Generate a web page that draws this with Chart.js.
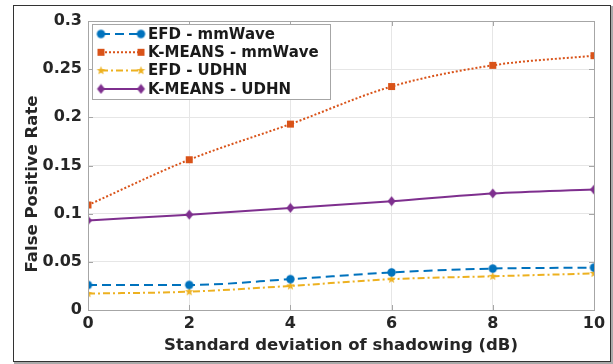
<!DOCTYPE html>
<html lang="en">
<head>
    <meta charset="UTF-8">
    <title>False Positive Rate vs shadowing</title>
    <script src="https://cdn.jsdelivr.net/npm/chart.js@4.4.0/dist/chart.umd.min.js"></script>
    <style>
        body { margin: 0; background: #fff; }
    </style>
</head>
<body>
    <canvas id="grafica" width="613" height="364"></canvas>
    <script>

        // datos
        const shadowing = [0, 2, 4, 6, 8, 10];
        const efdMmwave = [0.026, 0.026, 0.032, 0.039, 0.043, 0.044];
        const kmeansMmwave = [0.109, 0.156, 0.193, 0.232, 0.254, 0.264];
        const efdUdhn = [0.017, 0.019, 0.025, 0.032, 0.035, 0.038];
        const kmeansUdhn = [0.093, 0.099, 0.106, 0.113, 0.121, 0.125];
        const yTicks = [0, 0.05, 0.1, 0.15, 0.2, 0.25, 0.3];
        const xTicks = [0, 2, 4, 6, 8, 10];

        const FONT = "'DejaVu Sans', sans-serif";

        //marcadores estilo matlab
        function marker(kind, color) {
            const c = document.createElement('canvas');
            c.width = 11; c.height = 11;
            const g = c.getContext('2d');
            g.fillStyle = color;
            g.beginPath();
            if (kind === 'circle') {
                g.arc(5.5, 5.5, 4.2, 0, Math.PI * 2);
            } else if (kind === 'square') {
                g.rect(2, 2, 7, 7);
            } else if (kind === 'diamond') {
                g.moveTo(5.5, 0.5); g.lineTo(9.5, 5.5); g.lineTo(5.5, 10.5); g.lineTo(1.5, 5.5);
            } else {
                for (let i = 0; i < 10; i++) {
                    const r = i % 2 === 0 ? 4.6 : 1.9;
                    const a = -Math.PI / 2 + i * Math.PI / 5;
                    const px = 5.5 + r * Math.cos(a), py = 5.5 + r * Math.sin(a);
                    if (i === 0) g.moveTo(px, py); else g.lineTo(px, py);
                }
            }
            g.closePath();
            g.fill();
            return c;
        }

        const series = [
            { label: 'EFD - mmWave', data: efdMmwave, color: '#0072BD', dash: [9, 5], mk: 'circle' },
            { label: 'K-MEANS - mmWave', data: kmeansMmwave, color: '#D95319', dash: [2, 2], mk: 'square' },
            { label: 'EFD - UDHN', data: efdUdhn, color: '#EDB120', dash: [7, 3, 2, 3], mk: 'star' },
            { label: 'K-MEANS - UDHN', data: kmeansUdhn, color: '#7E2F8E', dash: [], mk: 'diamond' }
        ];

        const datasets = series.map(s => ({
            label: s.label,
            data: shadowing.map((x, i) => ({ x: x, y: s.data[i] })),
            borderColor: s.color,
            backgroundColor: s.color,
            borderDash: s.dash,
            borderWidth: 2,
            cubicInterpolationMode: 'monotone',
            pointStyle: marker(s.mk, s.color),
            pointRadius: 5,
            pointHoverRadius: 5
        }));

        // marco, ticks internos, titulo y y leyenda
        const extras = {
            id: 'extras',
            beforeDraw(chart) {
                const ctx = chart.ctx;
                ctx.save();
                ctx.fillStyle = '#fff';
                ctx.fillRect(0, 0, chart.width, chart.height);
                ctx.restore();
            },
            afterDraw(chart) {
                const ctx = chart.ctx;
                const a = chart.chartArea;
                const xs = chart.scales.x, ys = chart.scales.y;
                ctx.save();
                // box del eje
                ctx.strokeStyle = '#a6a6a6';
                ctx.lineWidth = 1;
                ctx.strokeRect(a.left + 0.5, a.top + 0.5, a.right - a.left, a.bottom - a.top);
                ctx.beginPath();
                xTicks.forEach(v => {
                    const px = Math.round(xs.getPixelForValue(v)) + 0.5;
                    ctx.moveTo(px, a.bottom); ctx.lineTo(px, a.bottom - 5);
                    ctx.moveTo(px, a.top); ctx.lineTo(px, a.top + 5);
                });
                yTicks.forEach(v => {
                    const py = Math.round(ys.getPixelForValue(v)) + 0.5;
                    ctx.moveTo(a.left, py); ctx.lineTo(a.left + 5, py);
                    ctx.moveTo(a.right, py); ctx.lineTo(a.right - 5, py);
                });
                ctx.stroke();

                // titulo del eje y (como en matlab, algo mas abajo del centro)
                ctx.save();
                ctx.translate(33, 184);
                ctx.rotate(-Math.PI / 2);
                ctx.fillStyle = '#262626';
                ctx.font = 'bold 16.5px ' + FONT;
                ctx.textAlign = 'center';
                ctx.textBaseline = 'middle';
                ctx.fillText('False Positive Rate', 0, 0);
                ctx.restore();

                // leyenda
                const lx = 92, ly = 24, lw = 238, lh = 75;
                ctx.fillStyle = '#fff';
                ctx.fillRect(lx, ly, lw, lh);
                ctx.strokeStyle = '#a6a6a6';
                ctx.lineWidth = 1;
                ctx.strokeRect(lx + 0.5, ly + 0.5, lw, lh);
                chart.data.datasets.forEach((ds, i) => {
                    const y = ly + 10 + i * 18.3;
                    ctx.strokeStyle = ds.borderColor;
                    ctx.lineWidth = 2;
                    ctx.setLineDash(ds.borderDash);
                    ctx.beginPath();
                    ctx.moveTo(101, y); ctx.lineTo(141, y);
                    ctx.stroke();
                    ctx.setLineDash([]);
                    const img = ds.pointStyle;
                    ctx.drawImage(img, 101 - img.width / 2, y - img.height / 2);
                    ctx.drawImage(img, 141 - img.width / 2, y - img.height / 2);
                    ctx.fillStyle = '#1a1a1a';
                    ctx.font = 'bold 15px ' + FONT;
                    ctx.textAlign = 'left';
                    ctx.textBaseline = 'middle';
                    ctx.fillText(ds.label, 148, y + 1);
                });

                // marco exterior de la figura
                ctx.strokeStyle = '#333';
                ctx.lineWidth = 1;
                ctx.strokeRect(13.5, 5.5, 597, 356);
                ctx.strokeStyle = '#aaa';
                ctx.lineWidth = 2;
                ctx.beginPath();
                ctx.moveTo(612, 6); ctx.lineTo(612, 363); ctx.lineTo(14, 363);
                ctx.stroke();
                ctx.restore();
            }
        };

        const ctx = document.getElementById('grafica').getContext('2d');
        const myChart = new Chart(ctx, {
            type: 'line',
            data: { datasets: datasets },
            plugins: [extras],
            options: {
                responsive: false,
                animation: false,
                layout: { padding: { left: 14, top: 21, right: 19, bottom: 8 } },
                plugins: {
                    legend: { display: false },
                    tooltip: { enabled: false }
                },
                scales: {
                    x: {
                        type: 'linear',
                        min: 0, max: 10,
                        afterFit: s => { s.height = 46; },
                        afterBuildTicks: s => { s.ticks = xTicks.map(v => ({ value: v })); },
                        grid: { color: '#e6e6e6', drawTicks: false },
                        border: { display: false },
                        ticks: { padding: 4, color: '#262626', font: { family: FONT, size: 16, weight: 'bold' } },
                        title: {
                            display: true,
                            text: 'Standard deviation of shadowing (dB)',
                            color: '#262626',
                            font: { family: FONT, size: 16.5, weight: 'bold' },
                            padding: { top: 0, bottom: 0 }
                        }
                    },
                    y: {
                        min: 0, max: 0.3,
                        afterFit: s => { s.width = 74; },
                        afterBuildTicks: s => { s.ticks = yTicks.map(v => ({ value: v })); },
                        grid: { color: '#e6e6e6', drawTicks: false },
                        border: { display: false },
                        ticks: {
                            padding: 6,
                            color: '#262626',
                            font: { family: FONT, size: 16, weight: 'bold' },
                            callback: v => String(+v.toFixed(2))
                        }
                    }
                }
            }
        });
    </script>
</body>
</html>
